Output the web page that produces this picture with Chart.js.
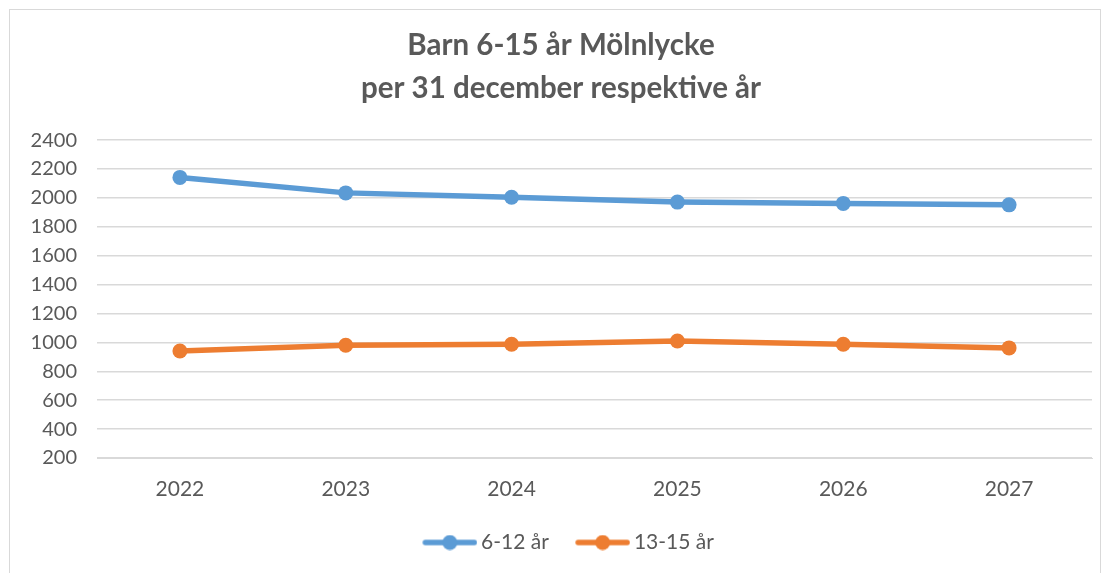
<!DOCTYPE html>
<html lang="sv">
<head>
  <meta charset="UTF-8" />
  <title>Barn 6-15 år Mölnlycke</title>
  <script src="https://cdn.jsdelivr.net/npm/chart.js"></script>
  <style>
    body { margin: 0; background: #fff; overflow: hidden; }
    .frame {
      position: absolute;
      left: 9px;
      top: 9px;
      width: 1090px;
      height: 600px;
      border: 1px solid #d9d9d9;
    }
  </style>
</head>
<body>
  <div class="frame">
    <canvas id="chart" width="1090" height="564"></canvas>
  </div>

  <script>
    const years = ["2022", "2023", "2024", "2025", "2026", "2027"];
    const age6to12 = [2142, 2035, 2005, 1971, 1962, 1952];
    const age13to15 = [941, 980, 987, 1010, 987, 962];
    const seriesNames = ["6-12 år", "13-15 år"];
    const blue = "#5b9bd5", orange = "#ed7d31";
    const textColor = "#595959";

    // legend marker: line with a dot in the middle, like Excel
    // (left part of the image is empty so the marker sits close to its text)
    function legendMarker(color) {
      const c = document.createElement("canvas");
      c.width = 76; c.height = 16;
      const g = c.getContext("2d");
      g.strokeStyle = color;
      g.lineWidth = 5.5;
      g.lineCap = "round";
      g.beginPath(); g.moveTo(24, 8); g.lineTo(73, 8); g.stroke();
      g.fillStyle = color;
      g.beginPath(); g.arc(48.5, 8, 7.5, 0, Math.PI * 2); g.fill();
      return c;
    }
    const markers = [legendMarker(blue), legendMarker(orange)];

    Chart.defaults.font.family = "Lato, 'Open Sans', sans-serif";
    Chart.defaults.color = textColor;

    new Chart(document.getElementById("chart"), {
      type: "line",
      data: {
        labels: years,
        datasets: [
          { label: seriesNames[0], data: age6to12, borderColor: blue, backgroundColor: blue,
            borderWidth: 5.5, pointRadius: 7.5, pointHoverRadius: 7.5, pointBorderWidth: 0 },
          { label: seriesNames[1], data: age13to15, borderColor: orange, backgroundColor: orange,
            borderWidth: 5.5, pointRadius: 7.5, pointHoverRadius: 7.5, pointBorderWidth: 0 }
        ]
      },
      options: {
        responsive: false,
        animation: false,
        layout: { padding: { left: 20, right: 8, top: 0, bottom: 11 } },
        plugins: {
          title: {
            display: true,
            text: ["Barn 6-15 år Mölnlycke", "per 31 december respektive år"],
            color: textColor,
            font: { size: 29.5, weight: "bold", lineHeight: 1.46 },
            padding: { top: 14, bottom: 30 }
          },
          legend: {
            position: "bottom",
            labels: {
              usePointStyle: true,
              pointStyleWidth: 62.5,
              padding: 12,
              font: { size: 21 },
              color: textColor,
              generateLabels(chart) {
                const items = Chart.defaults.plugins.legend.labels.generateLabels(chart);
                items.forEach((it, i) => { it.pointStyle = markers[i]; });
                return items;
              }
            }
          },
          tooltip: { enabled: false }
        },
        scales: {
          x: {
            offset: true,
            grid: { display: false, drawTicks: false },
            border: { color: "#d9d9d9" },
            ticks: { font: { size: 21 }, padding: 19 },
            afterFit(scale) { scale.height = 62; }
          },
          y: {
            min: 200,
            max: 2400,
            ticks: { stepSize: 200, font: { size: 20 }, padding: 20, callback: v => String(v) },
            grid: { color: "#d9d9d9", lineWidth: 1.5, drawTicks: false },
            border: { display: false },
            afterFit(scale) { scale.width = 67; }
          }
        }
      }
    });
  </script>
</body>
</html>
